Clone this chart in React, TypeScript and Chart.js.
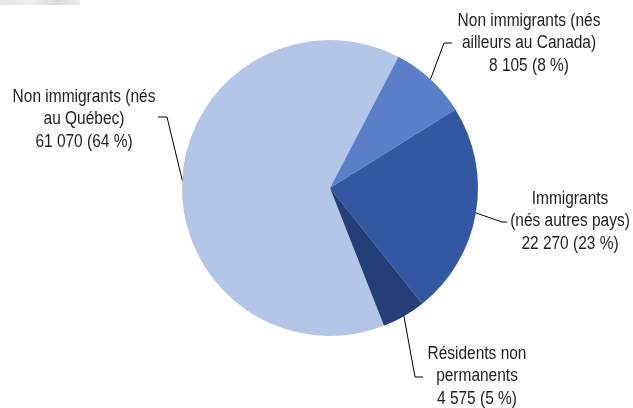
import React, { useEffect, useRef } from "react";
import { Chart, registerables } from "chart.js";

Chart.register(...registerables);

const categories = [
  "Non immigrants (nés au Québec)",
  "Non immigrants (nés ailleurs au Canada)",
  "Immigrants (nés autres pays)",
  "Résidents non permanents",
];
const values = [61070, 8105, 22270, 4575];
const labelLines = [
  ["Non immigrants (nés", "au Québec)", "61 070 (64 %)"],
  ["Non immigrants (nés", "ailleurs au Canada)", "8 105 (8 %)"],
  ["Immigrants", "(nés autres pays)", "22 270 (23 %)"],
  ["Résidents non", "permanents", "4 575 (5 %)"],
];
const colors = ["#B4C6E7", "#5A7FC8", "#3158A0", "#243F77"];

// label layout: text center x, first line middle y, elbow and end of leader
const labelLayout = [
  { cx: 84, y0: 97, elbow: [167, 117], end: [158, 117] },
  { cx: 529, y0: 21, elbow: [444, 43], end: [452, 43] },
  { cx: 570, y0: 199, elbow: [502, 222], end: [507, 222] },
  { cx: 477, y0: 354, elbow: [415, 377], end: [423, 377] },
];
const lineHeight = 22.3;
const FONT = "18px 'Liberation Sans', Arial, sans-serif";
const NARROW = 0.86;

const labelPlugin = {
  id: "pieLabels",
  afterDraw(chart: any) {
    const ctx = chart.ctx;
    const meta = chart.getDatasetMeta(0);
    ctx.save();
    meta.data.forEach((arc: any, i: number) => {
      const p = arc.getProps(["x", "y", "startAngle", "endAngle", "outerRadius"], true);
      const mid = (p.startAngle + p.endAngle) / 2;
      const ex = p.x + p.outerRadius * Math.cos(mid);
      const ey = p.y + p.outerRadius * Math.sin(mid);
      const L = labelLayout[i];
      ctx.strokeStyle = "#000";
      ctx.lineWidth = 1;
      ctx.beginPath();
      ctx.moveTo(ex, ey);
      ctx.lineTo(L.elbow[0], L.elbow[1]);
      ctx.lineTo(L.end[0], L.end[1]);
      ctx.stroke();
      ctx.fillStyle = "#1e1e1e";
      ctx.font = FONT;
      ctx.textAlign = "center";
      ctx.textBaseline = "middle";
      labelLines[i].forEach((t, j) => {
        ctx.save();
        ctx.translate(L.cx, L.y0 + j * lineHeight);
        ctx.scale(NARROW, 1);
        ctx.fillText(t, 0, 0);
        ctx.restore();
      });
    });
    ctx.restore();
  },
};

export default function App() {
  const ref = useRef<HTMLCanvasElement>(null);
  useEffect(() => {
    if (!ref.current) return;
    const chart = new Chart(ref.current, {
      type: "pie",
      data: {
        labels: categories,
        datasets: [
          {
            data: values,
            backgroundColor: colors,
            borderWidth: 0,
          },
        ],
      },
      options: {
        responsive: false,
        animation: false,
        rotation: 158.6,
        layout: { padding: { left: 180, right: 153, top: 40, bottom: 72 } },
        plugins: {
          legend: { display: false },
          tooltip: { enabled: false },
        },
      },
      plugins: [labelPlugin],
    });
    return () => chart.destroy();
  }, []);
  return (
    <div style={{ position: "fixed", left: 0, top: 0, width: 633, height: 408, background: "#fff" }}>
      <div
        style={{
          position: "absolute",
          left: 0,
          top: 0,
          width: 80,
          height: 5,
          background: "linear-gradient(90deg, #e4e4e4, #eeeeee 40%, #dcdcdc 70%, #ececec)",
        }}
      />
      <canvas ref={ref} width={633} height={408} style={{ position: "absolute", left: 0, top: 0 }} />
    </div>
  );
}
